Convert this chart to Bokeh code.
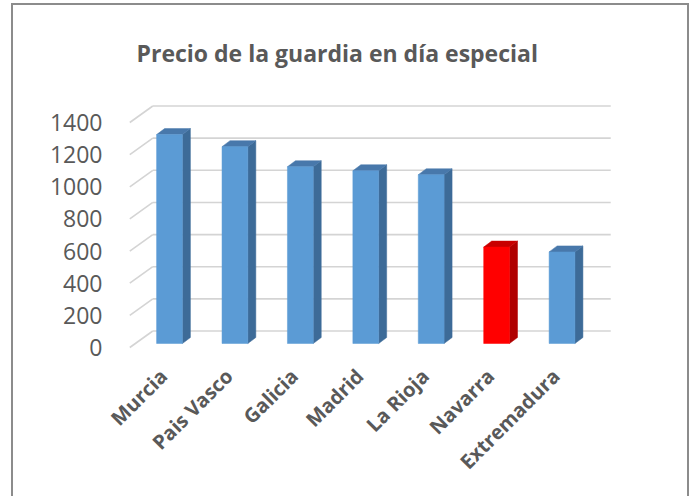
import math
from bokeh.plotting import figure
from bokeh.models import Range1d, FixedTicker
from bokeh.embed import file_html
from bokeh.resources import INLINE

# ---- data ----
categories = ["Murcia", "Pais Vasco", "Galicia", "Madrid", "La Rioja", "Navarra", "Extremadura"]
values = [1300, 1225, 1100, 1075, 1050, 600, 570]
highlighted = ["Navarra"]
y_ticks = [0, 200, 400, 600, 800, 1000, 1200, 1400]
title_text = "Precio de la guardia en día especial"

# ---- geometry (pixels -> data units) ----
PX_X = 65.42    # pixels per category slot
PX_Y = 0.1607   # pixels per value unit


def ux(px):
    return px / PX_X


def uy(px):
    return px / PX_Y


OX, OY = 13, 5          # canvas origin on the page (margin + css border)
W, H = 678, 493
f_left, f_right, f_top, f_bottom = 120 - OX, 625 - OX, 92 - OY, 356 - OY
x0_px = 163.0 - OX      # canvas pixel of the first category tick
y0_px = 347.0 - OY      # canvas pixel of value 0 on the front plane

x_start = (f_left - x0_px) / PX_X
x_end = (f_right - x0_px) / PX_X
y_start = (y0_px - f_bottom) / PX_Y
y_end = (y0_px - f_top) / PX_Y

p = figure(width=W, height=H, output_backend="svg", toolbar_location=None,
           x_range=Range1d(x_start, x_end), y_range=Range1d(y_start, y_end),
           min_border_left=f_left, min_border_right=W - f_right,
           min_border_top=f_top, min_border_bottom=H - f_bottom)
p.styles = {"margin-left": "11px", "margin-top": "3px",
            "border-left": "2px solid #8c8c8c", "border-top": "2px solid #8c8c8c",
            "border-right": "2px solid #8c8c8c"}
p.background_fill_color = "white"
p.border_fill_color = "white"
p.outline_line_color = None
p.grid.visible = False

n = len(categories)
bar_shift = ux(6)                   # bars sit slightly right of the label ticks
front_left = -0.5 + bar_shift - ux(7)
front_right = n - 0.5 + bar_shift - ux(7)
wall_dx, wall_dy = ux(23), uy(16.5)

# side wall diagonals and back-wall gridlines
p.segment(x0=[front_left] * len(y_ticks), y0=y_ticks,
          x1=[front_left + wall_dx] * len(y_ticks), y1=[v + wall_dy for v in y_ticks],
          line_color="#d4d4d4", line_width=1.6)
p.segment(x0=[front_left + wall_dx] * len(y_ticks), y0=[v + wall_dy for v in y_ticks],
          x1=[front_right + wall_dx] * len(y_ticks), y1=[v + wall_dy for v in y_ticks],
          line_color="#d4d4d4", line_width=1.6)

# 3D bars
hw = ux(12.9)
sdx, sdy = ux(8), uy(6)
base = uy(4)
ticks = list(range(n))
xs = [t + bar_shift for t in ticks]
front_col = ["#ff0000" if c in highlighted else "#5b9bd5" for c in categories]
side_col = ["#b00000" if c in highlighted else "#3d6b98" for c in categories]
top_col = ["#c80000" if c in highlighted else "#4878ab" for c in categories]

side_xs = [[x + hw, x + hw + sdx, x + hw + sdx, x + hw] for x in xs]
side_ys = [[base, base + sdy, base + v + sdy, base + v] for v in values]
top_xs = [[x - hw, x + hw, x + hw + sdx, x - hw + sdx] for x in xs]
top_ys = [[base + v, base + v, base + v + sdy, base + v + sdy] for v in values]

p.patches(side_xs, side_ys, fill_color=side_col, line_color=side_col, line_width=0.5)
p.patches(top_xs, top_ys, fill_color=top_col, line_color=top_col, line_width=0.5)
p.quad(left=[x - hw for x in xs], right=[x + hw for x in xs],
       bottom=[base] * n, top=[base + v for v in values],
       fill_color=front_col, line_color=front_col, line_width=0.5)

# axes
p.yaxis.ticker = FixedTicker(ticks=y_ticks)
p.yaxis.axis_line_color = None
p.yaxis.major_tick_line_color = None
p.yaxis.minor_tick_line_color = None
p.yaxis.major_tick_out = 0
p.yaxis.major_tick_in = 0
p.yaxis.major_label_standoff = 18
p.yaxis.major_label_text_font = "Open Sans"
p.yaxis.major_label_text_font_size = "23px"
p.yaxis.major_label_text_color = "#595959"

p.xaxis.ticker = FixedTicker(ticks=ticks)
p.xaxis.major_label_overrides = {i: c for i, c in enumerate(categories)}
p.xaxis.major_label_orientation = math.pi / 4
p.xaxis.axis_line_color = None
p.xaxis.major_tick_line_color = None
p.xaxis.minor_tick_line_color = None
p.xaxis.major_tick_out = 0
p.xaxis.major_tick_in = 0
p.xaxis.major_label_standoff = 16
p.xaxis.major_label_text_font = "Open Sans"
p.xaxis.major_label_text_font_style = "bold"
p.xaxis.major_label_text_font_size = "20px"
p.xaxis.major_label_text_color = "#595959"

# title
p.title.text = title_text
p.title.align = "left"
p.title.offset = 16
p.title.text_font = "Open Sans"
p.title.text_font_style = "bold"
p.title.text_font_size = "23px"
p.title.text_color = "#595959"
p.title.standoff = 47

open("out.html", "w").write(file_html(p, INLINE))
